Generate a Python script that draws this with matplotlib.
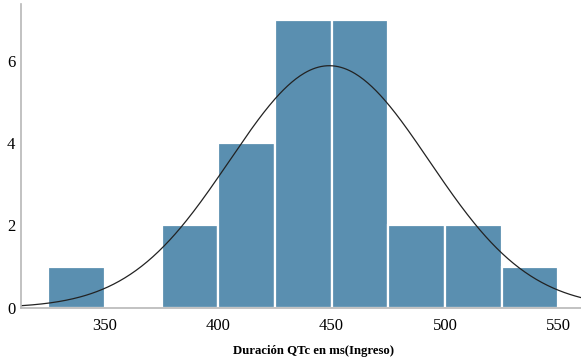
import numpy as np
import matplotlib
matplotlib.use('Agg')
import matplotlib.pyplot as plt

# histogram of QTc duration (ms) at admission
bin_edges = [325, 350, 375, 400, 425, 450, 475, 500, 525, 550]
counts = [1, 0, 2, 4, 7, 7, 2, 2, 1]
curve_mean = 449.0
curve_sd = 44.1
x_ticks = [350, 400, 450, 500, 550]
y_ticks = [0, 2, 4, 6]
x_label = 'Duración QTc en ms(Ingreso)'

plt.rcParams['font.family'] = ['Liberation Serif', 'DejaVu Serif']

fig = plt.figure(figsize=(5.81, 3.6), dpi=100)
ax = fig.add_axes([0.036, 0.145, 0.964, 0.844])

lefts = np.array(bin_edges[:-1])
widths = np.diff(bin_edges)
ax.bar(lefts, counts, width=widths, align='edge', color='#5a8fb0',
       edgecolor='white', linewidth=1.6)

# fitted normal curve scaled to counts
n = sum(counts)
bw = widths[0]
xs = np.linspace(313, 560, 400)
ys = n * bw / (curve_sd * np.sqrt(2 * np.pi)) * np.exp(-0.5 * ((xs - curve_mean) / curve_sd) ** 2)
ax.plot(xs, ys, color='#222222', linewidth=0.9)

ax.set_xlim(313, 560)
ax.set_ylim(0, 7.38)
ax.set_xticks(x_ticks)
ax.set_yticks(y_ticks)
ax.tick_params(length=0, labelsize=12, pad=7)
ax.tick_params(axis='y', pad=4)

for s in ['top', 'right']:
    ax.spines[s].set_visible(False)
for s in ['left', 'bottom']:
    ax.spines[s].set_color('#b8b8b8')
    ax.spines[s].set_linewidth(1.2)

fig.text(0.539, 0.024, x_label, ha='center', va='center',
         fontsize=9.2, fontweight='bold')

fig.savefig('out.png', dpi=100)
